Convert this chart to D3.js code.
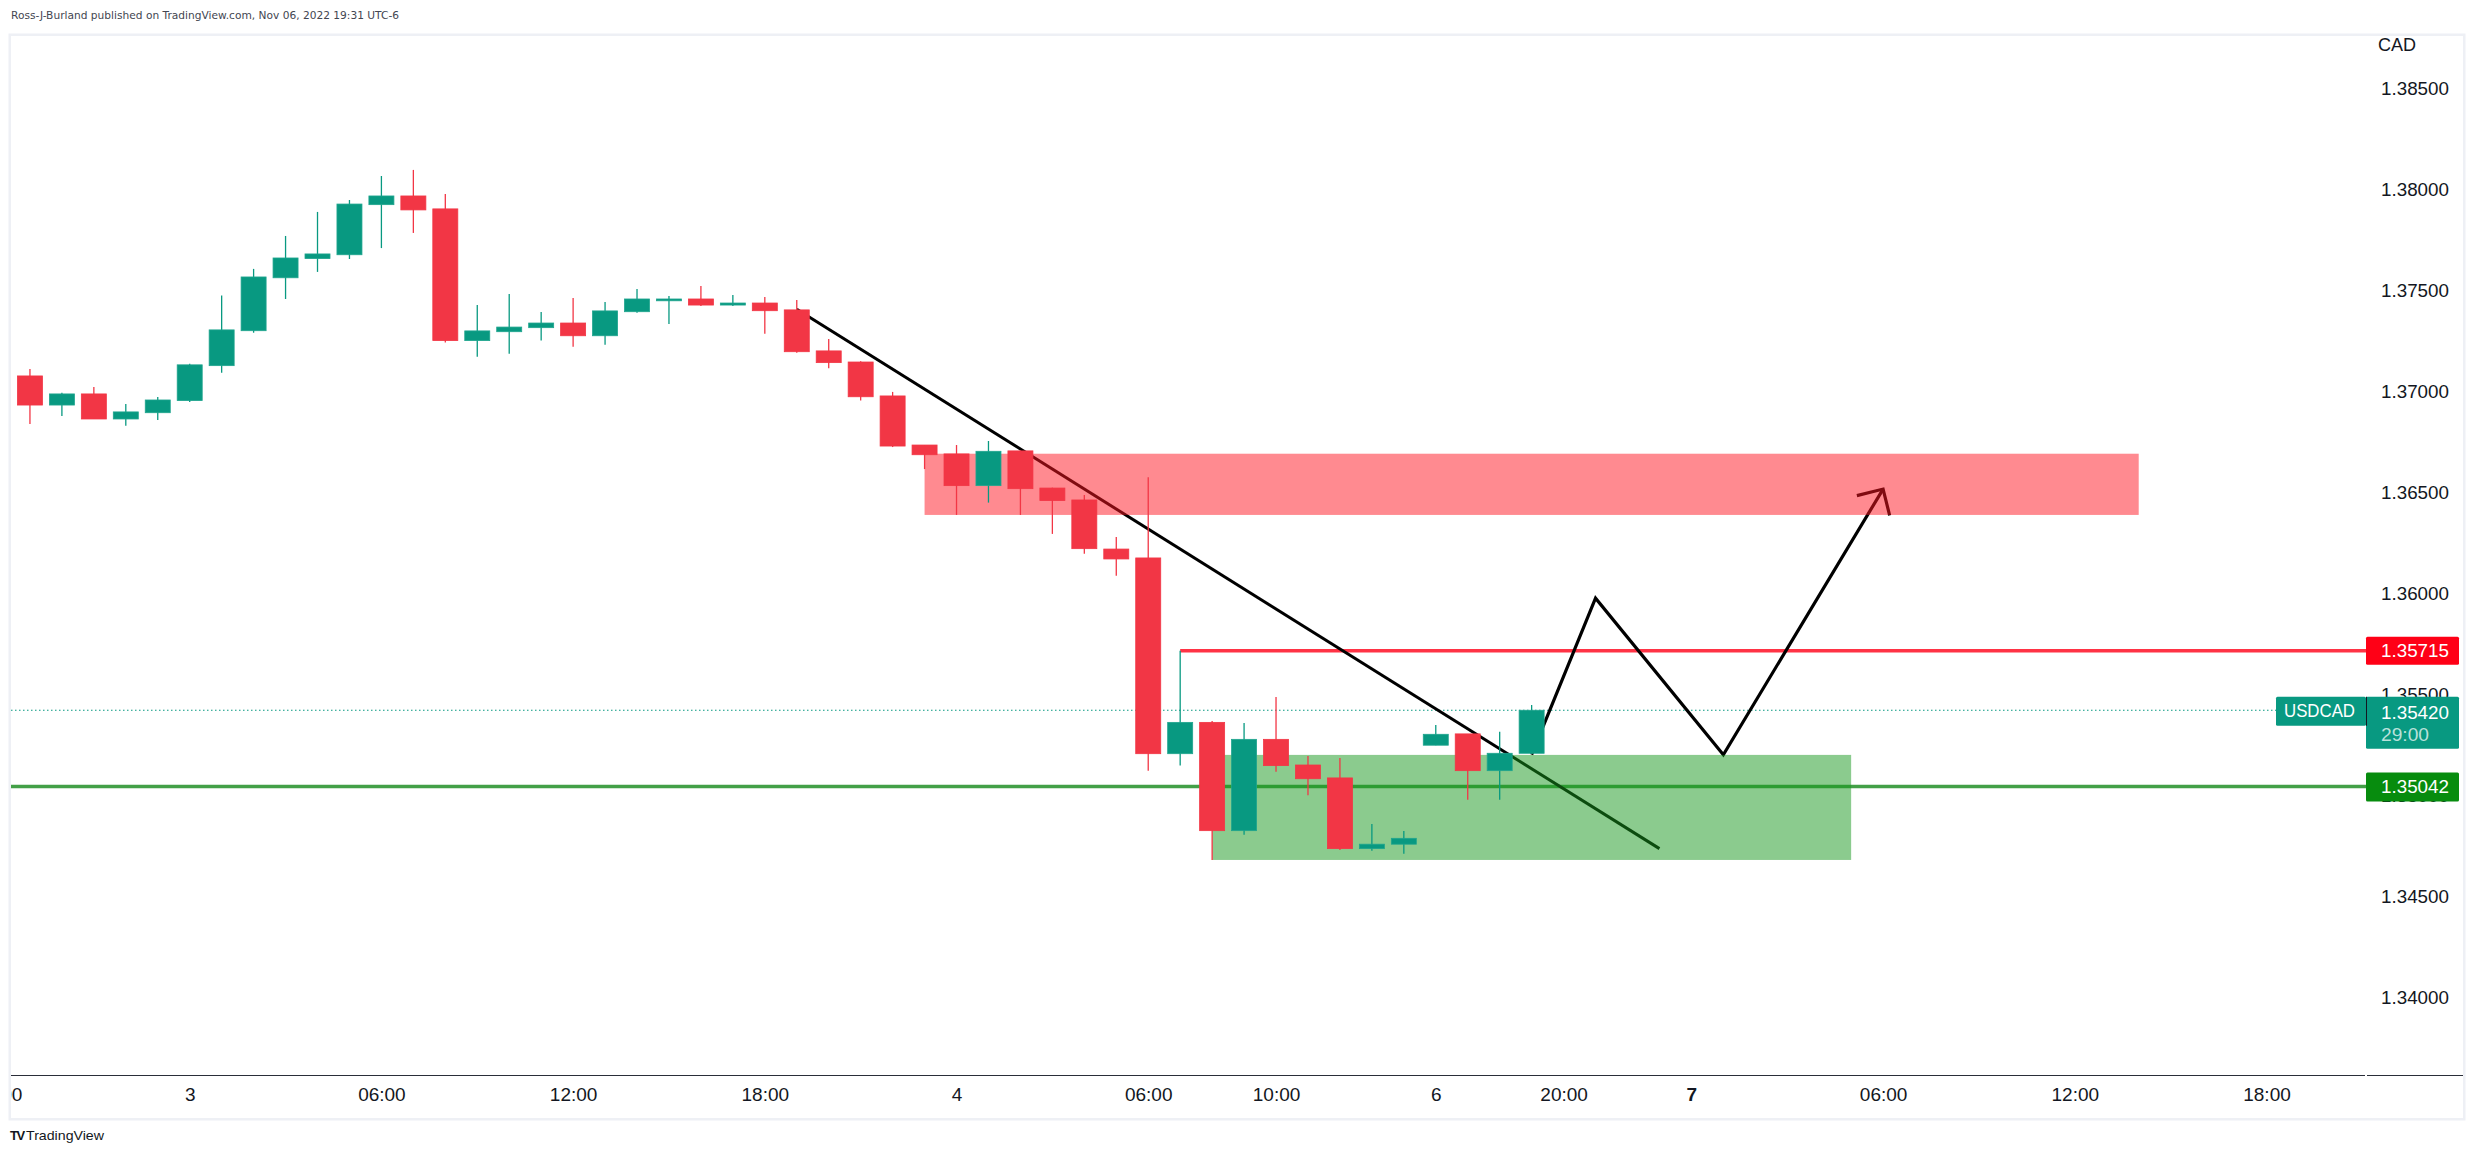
<!DOCTYPE html>
<html><head><meta charset="utf-8">
<script src="https://cdn.jsdelivr.net/npm/d3@7"></script>
<style>body{margin:0;background:#fff}svg{display:block}</style>
</head><body>
<svg id="c" width="2474" height="1154"></svg>
<script>
// ---------- DATA ----------
const barTimes = [
 "2022-11-02 18:00","2022-11-02 19:00","2022-11-02 20:00","2022-11-02 21:00","2022-11-02 22:00","2022-11-02 23:00",
 "2022-11-03 00:00","2022-11-03 01:00","2022-11-03 02:00","2022-11-03 03:00","2022-11-03 04:00","2022-11-03 05:00",
 "2022-11-03 06:00","2022-11-03 07:00","2022-11-03 08:00","2022-11-03 09:00","2022-11-03 10:00","2022-11-03 11:00",
 "2022-11-03 12:00","2022-11-03 13:00","2022-11-03 14:00","2022-11-03 15:00","2022-11-03 16:00","2022-11-03 17:00",
 "2022-11-03 18:00","2022-11-03 19:00","2022-11-03 20:00","2022-11-03 21:00","2022-11-03 22:00","2022-11-03 23:00",
 "2022-11-04 00:00","2022-11-04 01:00","2022-11-04 02:00","2022-11-04 03:00","2022-11-04 04:00","2022-11-04 05:00",
 "2022-11-04 06:00","2022-11-04 07:00","2022-11-04 08:00","2022-11-04 09:00","2022-11-04 10:00","2022-11-04 11:00",
 "2022-11-04 12:00","2022-11-04 13:00","2022-11-04 14:00",
 "2022-11-06 16:00","2022-11-06 17:00","2022-11-06 18:00","2022-11-06 19:00"];
const opens  = [1.37160,1.37075,1.36931,1.36986,1.36862,1.36893,1.36953,1.37126,1.37299,1.37561,1.37656,1.37675,
 1.37923,1.37966,1.37902,1.37250,1.37294,1.37314,1.37337,1.37274,1.37393,1.37450,1.37456,1.37426,
 1.37436,1.37402,1.37199,1.37144,1.36976,1.36733,1.36689,1.36532,1.36704,1.36520,1.36461,1.36218,
 1.36174,1.35205,1.35360,1.34824,1.35276,1.35149,1.35085,1.34735,1.34757,1.35247,1.35303,1.35121,1.35207];
const highs  = [1.37190,1.37110,1.36992,1.37020,1.36936,1.36971,1.37135,1.37473,1.37605,1.37768,1.37887,1.37946,
 1.38065,1.38095,1.37976,1.37426,1.37481,1.37391,1.37461,1.37441,1.37506,1.37471,1.37520,1.37476,
 1.37466,1.37451,1.37258,1.37148,1.36996,1.36733,1.36733,1.36753,1.36706,1.36522,1.36486,1.36278,
 1.36574,1.35715,1.35367,1.35357,1.35486,1.35194,1.35184,1.34857,1.34822,1.35347,1.35303,1.35313,1.35446];
const lows   = [1.37050,1.36837,1.36877,1.36862,1.36829,1.36857,1.36946,1.37091,1.37289,1.37456,1.37590,1.37654,
 1.37708,1.37783,1.37240,1.37170,1.37185,1.37250,1.37220,1.37230,1.37388,1.37332,1.37421,1.37421,
 1.37284,1.37190,1.37113,1.36953,1.36723,1.36614,1.36387,1.36448,1.36387,1.36293,1.36195,1.36086,
 1.35121,1.35146,1.34679,1.34804,1.35116,1.34999,1.34728,1.34725,1.34710,1.35247,1.34977,1.34977,1.35207];
const closes = [1.37075,1.36931,1.36986,1.36862,1.36897,1.36956,1.37130,1.37303,1.37565,1.37659,1.37679,1.37926,
 1.37966,1.37897,1.37250,1.37298,1.37317,1.37337,1.37274,1.37397,1.37456,1.37456,1.37426,1.37436,
 1.37398,1.37195,1.37141,1.36972,1.36728,1.36685,1.36532,1.36702,1.36517,1.36458,1.36220,1.36169,
 1.35205,1.35360,1.34824,1.35276,1.35146,1.35081,1.34735,1.34757,1.34786,1.35301,1.35121,1.35207,1.35420];

const priceTicks = [1.385,1.38,1.375,1.37,1.365,1.36,1.355,1.35,1.345,1.34];
const timeTickTimes = ["2022-11-02 18:00","2022-11-03 00:00","2022-11-03 06:00","2022-11-03 12:00","2022-11-03 18:00",
 "2022-11-04 00:00","2022-11-04 06:00","2022-11-04 10:00","2022-11-06 16:00","2022-11-06 20:00","2022-11-07 00:00",
 "2022-11-07 06:00","2022-11-07 12:00","2022-11-07 18:00"];
const timeTickLabels = ["18:00","3","06:00","12:00","18:00","4","06:00","10:00","6","20:00","7","06:00","12:00","18:00"];
const timeTickBold = ["7"];

const currentPrice = 1.35420;
const countdown = "29:00";
const symbol = "USDCAD";
const currency = "CAD";
const resistanceLine = {from:"2022-11-04 07:00", price:1.35715};
const supportLine = {price:1.35042};
const trendLine = [["2022-11-03 19:00",1.37405],["2022-11-06 23:00",1.34735]];
const resistanceZone = {from:"2022-11-03 23:00", to:"2022-11-07 14:00", top:1.36690, bottom:1.36387};
const supportZone = {from:"2022-11-04 08:00", to:"2022-11-07 05:00", top:1.35199, bottom:1.34679};
const projection = [["2022-11-06 19:00",1.35200],["2022-11-06 21:00",1.35975],["2022-11-07 01:00",1.35200],["2022-11-07 06:00",1.36515]];
const headerText = "Ross-J-Burland published on TradingView.com, Nov 06, 2022 19:31 UTC-6";

// ---------- SCALES ----------
const parse = d3.utcParse("%Y-%m-%d %H:%M");
const t0 = parse("2022-11-02 18:00"), sunOpen = parse("2022-11-06 16:00"), HOUR = 3600e3;
function slot(s){ const t = parse(s); return t < sunOpen ? (t - t0)/HOUR : 45 + (t - sunOpen)/HOUR; }

const x = d3.scaleLinear().domain([0, 71]).range([-2, 2266.5]);
const y = d3.scaleLinear().domain([1.34, 1.385]).range([997.1, 88.1]);

const P = {left:11, right:2366, top:36, bottom:1075};
const UP = "#089981", DOWN = "#F23645";
const FONT = "'Liberation Sans', Arial, sans-serif";

const svg = d3.select("#c");
svg.append("rect").attr("width",2474).attr("height",1154).attr("fill","#fff");

// header
svg.append("text").attr("x",11).attr("y",19).attr("font-family","'DejaVu Sans', Verdana, sans-serif")
  .attr("font-size",10.6).attr("fill","#434651").attr("textLength",388).attr("lengthAdjust","spacingAndGlyphs")
  .text(headerText);

// frame
svg.append("rect").attr("x",9.75).attr("y",34.75).attr("width",2454.5).attr("height",1084.5)
  .attr("fill","none").attr("stroke","#EEF0F5").attr("stroke-width",2.5);

svg.append("defs").append("clipPath").attr("id","pane").append("rect")
  .attr("x",P.left).attr("y",P.top).attr("width",P.right-P.left).attr("height",P.bottom-P.top);
const pane = svg.append("g").attr("clip-path","url(#pane)");

// current price dotted line
pane.append("line").attr("x1",P.left).attr("x2",P.right).attr("y1",y(currentPrice)).attr("y2",y(currentPrice))
  .attr("stroke",UP).attr("stroke-width",1.2).attr("stroke-dasharray","1.5,2.5");

// horizontal lines
pane.append("line").attr("x1",x(slot(resistanceLine.from))).attr("x2",P.right)
  .attr("y1",y(resistanceLine.price)).attr("y2",y(resistanceLine.price))
  .attr("stroke","#FF0016").attr("stroke-opacity",0.8).attr("stroke-width",3.5);
pane.append("line").attr("x1",P.left).attr("x2",P.right)
  .attr("y1",y(supportLine.price)).attr("y2",y(supportLine.price))
  .attr("stroke","#43A047").attr("stroke-width",3.5);

// trend line
const lineGen = d3.line().x(d=>x(slot(d[0]))).y(d=>y(d[1]));
pane.append("path").attr("d",lineGen(trendLine)).attr("fill","none").attr("stroke","#000").attr("stroke-width",3);

// projection zigzag + arrow head
pane.append("path").attr("d",lineGen(projection)).attr("fill","none").attr("stroke","#000")
  .attr("stroke-width",3.2).attr("stroke-linejoin","miter");
{
  const a = projection[projection.length-2], b = projection[projection.length-1];
  const ax = x(slot(a[0])), ay = y(a[1]), bx = x(slot(b[0])), by = y(b[1]);
  const ang = Math.atan2(ay-by, ax-bx), L = 27, w = Math.PI/4;
  const p1 = [bx + L*Math.cos(ang+w), by + L*Math.sin(ang+w)];
  const p2 = [bx + L*Math.cos(ang-w), by + L*Math.sin(ang-w)];
  pane.append("path").attr("d",`M${p1[0]},${p1[1]}L${bx},${by}L${p2[0]},${p2[1]}`)
    .attr("fill","none").attr("stroke","#000").attr("stroke-width",3.2).attr("stroke-linejoin","miter");
}

// zones
function zone(z, col){
  pane.append("rect").attr("x",x(slot(z.from))).attr("width",x(slot(z.to))-x(slot(z.from)))
    .attr("y",y(z.top)).attr("height",y(z.bottom)-y(z.top)).attr("fill",col).attr("fill-opacity",0.5);
}
zone(resistanceZone,"#FF1622");
zone(supportZone,"#17971D");

// candles
const bars = barTimes.map((t,i)=>({t, o:opens[i], h:highs[i], l:lows[i], c:closes[i]}));
const BW = 25;
const cg = pane.append("g");
cg.selectAll("line.w").data(bars).join("line").attr("class","w")
  .attr("x1",d=>x(slot(d.t))).attr("x2",d=>x(slot(d.t)))
  .attr("y1",d=>y(d.h)).attr("y2",d=>y(d.l))
  .attr("stroke",d=>d.c>=d.o?UP:DOWN).attr("stroke-width",1.3);
cg.selectAll("rect.b").data(bars).join("rect").attr("class","b")
  .attr("x",d=>x(slot(d.t))-BW/2).attr("width",BW)
  .attr("y",d=>y(Math.max(d.o,d.c)))
  .attr("height",d=>Math.max(1.8, y(Math.min(d.o,d.c))-y(Math.max(d.o,d.c))))
  .attr("fill",d=>d.c>=d.o?UP:DOWN)
  .attr("stroke",d=>d.c>=d.o?"#1FA58E":DOWN).attr("stroke-width",0.8);

// time axis
svg.append("line").attr("x1",P.left).attr("x2",P.right-1).attr("y1",P.bottom+0.5).attr("y2",P.bottom+0.5)
  .attr("stroke","#2A2E39").attr("stroke-width",1.2);
svg.append("line").attr("x1",P.right+1).attr("x2",2463).attr("y1",P.bottom+0.5).attr("y2",P.bottom+0.5)
  .attr("stroke","#2A2E39").attr("stroke-width",1.2);
svg.select("defs").append("clipPath").attr("id","taxis").append("rect")
  .attr("x",P.left).attr("y",P.bottom+1).attr("width",P.right-P.left).attr("height",40);
const xAxis = d3.axisBottom(x).tickValues(timeTickTimes.map(slot))
  .tickFormat((d,i)=>timeTickLabels[i]).tickSize(0).tickPadding(13);
const gx = svg.append("g").attr("clip-path","url(#taxis)").append("g")
  .attr("transform",`translate(0,${P.bottom})`).call(xAxis);
gx.select(".domain").remove();
gx.selectAll("text").attr("font-family",FONT).attr("font-size",19).attr("fill","#131722")
  .attr("font-weight",(d,i)=>timeTickBold.includes(timeTickLabels[i])?"bold":"normal");

// price axis
const yAxis = d3.axisRight(y).tickValues(priceTicks).tickFormat(d3.format(".5f")).tickSize(0).tickPadding(15);
const gy = svg.append("g").attr("transform",`translate(${P.right},0)`).call(yAxis);
gy.select(".domain").remove();
gy.selectAll("text").attr("font-family",FONT).attr("font-size",18.5).attr("fill","#131722")
  .attr("textLength",68).attr("lengthAdjust","spacingAndGlyphs");
svg.append("text").attr("x",2378).attr("y",51).attr("font-family",FONT).attr("font-size",18)
  .attr("fill","#131722").text(currency);

// price labels
function priceBox(price, h, fill, lines){
  const cy = y(price);
  svg.append("rect").attr("x",P.right).attr("y",cy-14).attr("width",93).attr("height",h)
    .attr("rx",1.5).attr("fill",fill);
  lines.forEach((ln,i)=>{
    svg.append("text").attr("x",P.right+15).attr("y",cy+i*22).attr("dy","0.35em")
      .attr("font-family",FONT).attr("font-size",18.5).attr("fill",ln[1])
      .attr("textLength",ln[0].length>5?68:47).attr("lengthAdjust","spacingAndGlyphs").text(ln[0]);
  });
}
priceBox(resistanceLine.price, 28, "#FF0016", [[d3.format(".5f")(resistanceLine.price),"#fff"]]);
priceBox(supportLine.price, 29, "#078C0E", [[d3.format(".5f")(supportLine.price),"#fff"]]);
{
  const cy = y(currentPrice);
  svg.append("rect").attr("x",2276).attr("y",cy-13.5).attr("width",90).attr("height",29).attr("rx",1.5).attr("fill",UP);
  svg.append("text").attr("x",2284).attr("y",cy+1).attr("dy","0.35em").attr("font-family",FONT)
    .attr("font-size",17.5).attr("fill","#fff").attr("textLength",71).attr("lengthAdjust","spacingAndGlyphs").text(symbol);
  svg.append("rect").attr("x",P.right).attr("y",cy-13.5).attr("width",93).attr("height",52).attr("rx",1.5).attr("fill",UP);
  svg.append("line").attr("x1",P.right+0.5).attr("x2",P.right+0.5).attr("y1",cy-13.5).attr("y2",cy+15.5)
    .attr("stroke","#131722").attr("stroke-width",1);
  svg.append("text").attr("x",P.right+15).attr("y",cy+2.5).attr("dy","0.35em").attr("font-family",FONT)
    .attr("font-size",18.5).attr("fill","#fff").attr("textLength",68).attr("lengthAdjust","spacingAndGlyphs")
    .text(d3.format(".5f")(currentPrice));
  svg.append("text").attr("x",P.right+15).attr("y",cy+24.5).attr("dy","0.35em").attr("font-family",FONT)
    .attr("font-size",18.5).attr("fill","rgba(255,255,255,0.72)").attr("textLength",48).attr("lengthAdjust","spacingAndGlyphs")
    .text(countdown);
}

// TradingView logo
svg.append("text").attr("x",10).attr("y",1140).attr("font-family",FONT).attr("font-weight","bold")
  .attr("font-size",13).attr("letter-spacing",-1.5).attr("fill","#131722").text("TV");
svg.append("text").attr("x",26).attr("y",1140).attr("font-family",FONT)
  .attr("font-size",13).attr("fill","#131722").attr("textLength",78).attr("lengthAdjust","spacingAndGlyphs").text("TradingView");
</script>
</body></html>
